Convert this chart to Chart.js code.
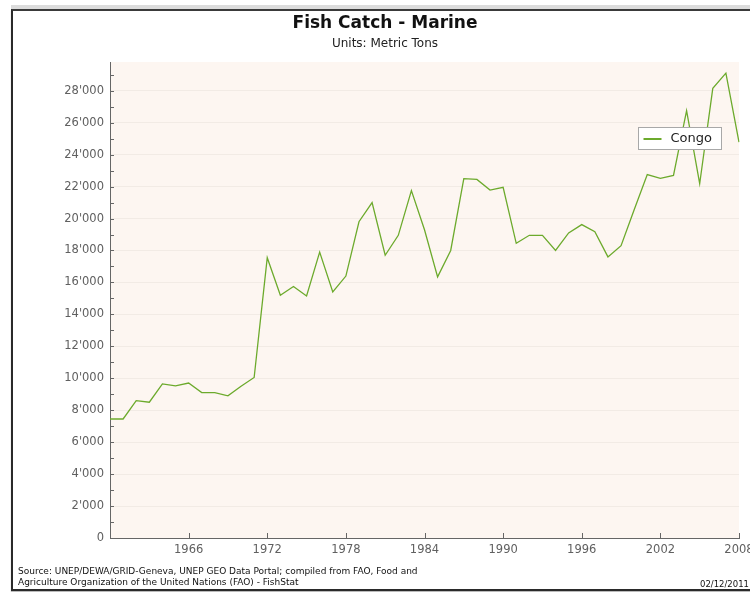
<!DOCTYPE html>
<html>
<head>
<meta charset="utf-8">
<script src="https://cdn.jsdelivr.net/npm/chart.js@4.4.1/dist/chart.umd.min.js"></script>
<style>
  html, body { margin: 0; padding: 0; background: #fff; width: 750px; height: 592px; overflow: hidden; }
  #band { position: absolute; left: 11px; top: 5px; width: 760px; height: 4px; background: #dcdcdc; }
  #frame { position: absolute; left: 11px; top: 9px; width: 800px; height: 578px;
           border-left: 2px solid #2a2a2a; border-top: 2px solid #3a3a3a; border-bottom: 2px solid #2a2a2a;
           box-shadow: 0 2px 1px #bbb; }
  #c { position: absolute; left: 0; top: 0; }
  .t { position: absolute; font-family: "DejaVu Sans", sans-serif; white-space: nowrap; }
  #title { left: 185px; width: 400px; text-align: center; top: 12px; font-size: 17px; font-weight: bold; color: #111; }
  #sub { left: 185px; width: 400px; text-align: center; top: 36px; font-size: 12px; color: #222; }
  #src { left: 18px; top: 566px; font-size: 9px; line-height: 10.5px; color: #111; }
  #date { right: 1px; top: 579px; font-size: 8.5px; color: #111; }
</style>
</head>
<body>
<div id="band"></div>
<div id="frame"></div>
<canvas id="c" width="750" height="592"></canvas>
<div class="t" id="title">Fish Catch - Marine</div>
<div class="t" id="sub">Units: Metric Tons</div>
<div class="t" id="src">Source: UNEP/DEWA/GRID-Geneva, UNEP GEO Data Portal; compiled from FAO, Food and<br>Agriculture Organization of the United Nations (FAO) - FishStat</div>
<div class="t" id="date">02/12/2011</div>
<script>
const years = [1960,1961,1962,1963,1964,1965,1966,1967,1968,1969,
               1970,1971,1972,1973,1974,1975,1976,1977,1978,1979,
               1980,1981,1982,1983,1984,1985,1986,1987,1988,1989,
               1990,1991,1992,1993,1994,1995,1996,1997,1998,1999,
               2000,2001,2002,2003,2004,2005,2006,2007,2008];
const congo = [7450,7450,8600,8500,9650,9520,9700,9100,9100,8900,
               9500,10050,17550,15200,15750,15150,17900,15400,16400,19800,
               21000,17700,18950,21750,19300,16350,18000,22500,22450,21780,
               21950,18450,18950,18950,18000,19100,19620,19180,17600,18300,
               20550,22750,22520,22700,26750,22180,28150,29100,24780];
const xTickYears = [1966,1972,1978,1984,1990,1996,2002,2008];
const yTickValues = [0,2000,4000,6000,8000,10000,12000,14000,16000,18000,20000,22000,24000,26000,28000];
const seriesName = 'Congo';
const yMax = 29800;
const yMinorStep = 1000;

const LINE = '#6caa2c';
const PLOT_BG = '#fdf6f1';
const GRID = '#f2ebe5';
const AXIS = '#666666';
const TXT = '#606060';

function fmt(v) {
  return String(Math.round(v)).replace(/\B(?=(\d{3})+(?!\d))/g, "'");
}

const decor = {
  id: 'decor',
  beforeDraw(chart) {
    const { ctx, chartArea: a } = chart;
    ctx.save();
    ctx.fillStyle = PLOT_BG;
    ctx.fillRect(a.left, a.top, a.right - a.left, a.bottom - a.top);
    ctx.restore();
  },
  afterDraw(chart) {
    const { ctx, chartArea: a } = chart;
    const ys = chart.scales.y, xs = chart.scales.x;
    ctx.save();
    ctx.strokeStyle = AXIS;
    ctx.lineWidth = 1;
    ctx.beginPath();
    for (let v = 0; v <= yMax; v += yMinorStep) {
      const y = Math.round(ys.getPixelForValue(v)) + 0.5;
      ctx.moveTo(a.left, y); ctx.lineTo(a.left + 4, y);
    }
    xTickYears.forEach(yr => {
      const x = Math.round(xs.getPixelForValue(years.indexOf(yr))) + 0.5;
      ctx.moveTo(x, a.bottom); ctx.lineTo(x, a.bottom - 5);
    });
    ctx.stroke();

    // legend
    const ds = chart.data.datasets[0];
    const bx = 638.5, by = 127.5, bw = 83, bh = 22;
    ctx.fillStyle = '#ffffff';
    ctx.fillRect(bx, by, bw, bh);
    ctx.strokeStyle = '#a8a8a8';
    ctx.strokeRect(bx, by, bw, bh);
    ctx.strokeStyle = ds.borderColor;
    ctx.lineWidth = 2;
    ctx.beginPath();
    ctx.moveTo(bx + 5, by + 11.5); ctx.lineTo(bx + 23, by + 11.5);
    ctx.stroke();
    ctx.fillStyle = '#222';
    ctx.font = '13px "DejaVu Sans"';
    ctx.textBaseline = 'middle';
    ctx.fillText(ds.label, bx + 32, by + 11.5);
    ctx.restore();
  }
};

new Chart(document.getElementById('c'), {
  type: 'line',
  data: {
    labels: years,
    datasets: [{
      label: seriesName,
      data: congo,
      borderColor: LINE,
      borderWidth: 1.3,
      pointRadius: 0,
      tension: 0,
      fill: false
    }]
  },
  options: {
    responsive: false,
    animation: false,
    events: [],
    layout: { padding: { left: 0, right: 11, top: 62, bottom: 0 } },
    plugins: { legend: { display: false }, title: { display: false }, tooltip: { enabled: false } },
    scales: {
      x: {
        type: 'category',
        offset: false,
        grid: { display: false, drawTicks: false },
        border: { display: true, color: AXIS, width: 1 },
        ticks: {
          autoSkip: false, maxRotation: 0, padding: 5, color: TXT,
          font: { family: 'DejaVu Sans', size: 11.5 },
          callback: function (val, idx) { const yr = years[idx]; return xTickYears.includes(yr) ? String(yr) : ''; }
        },
        afterFit(s) { s.height = 54; s.paddingLeft = 0; s.paddingRight = 0; }
      },
      y: {
        min: 0, max: yMax,
        grid: { drawTicks: false, color: c => (c.tick && c.tick.value === 0) ? 'rgba(0,0,0,0)' : GRID },
        border: { display: true, color: AXIS, width: 1 },
        afterBuildTicks(s) { s.ticks = yTickValues.map(v => ({ value: v })); },
        ticks: {
          padding: 6, color: TXT,
          font: { family: 'DejaVu Sans', size: 11.5 },
          callback: v => fmt(v)
        },
        afterFit(s) { s.width = 110; s.paddingTop = 0; s.paddingBottom = 0; }
      }
    }
  },
  plugins: [decor]
});
</script>
</body>
</html>
